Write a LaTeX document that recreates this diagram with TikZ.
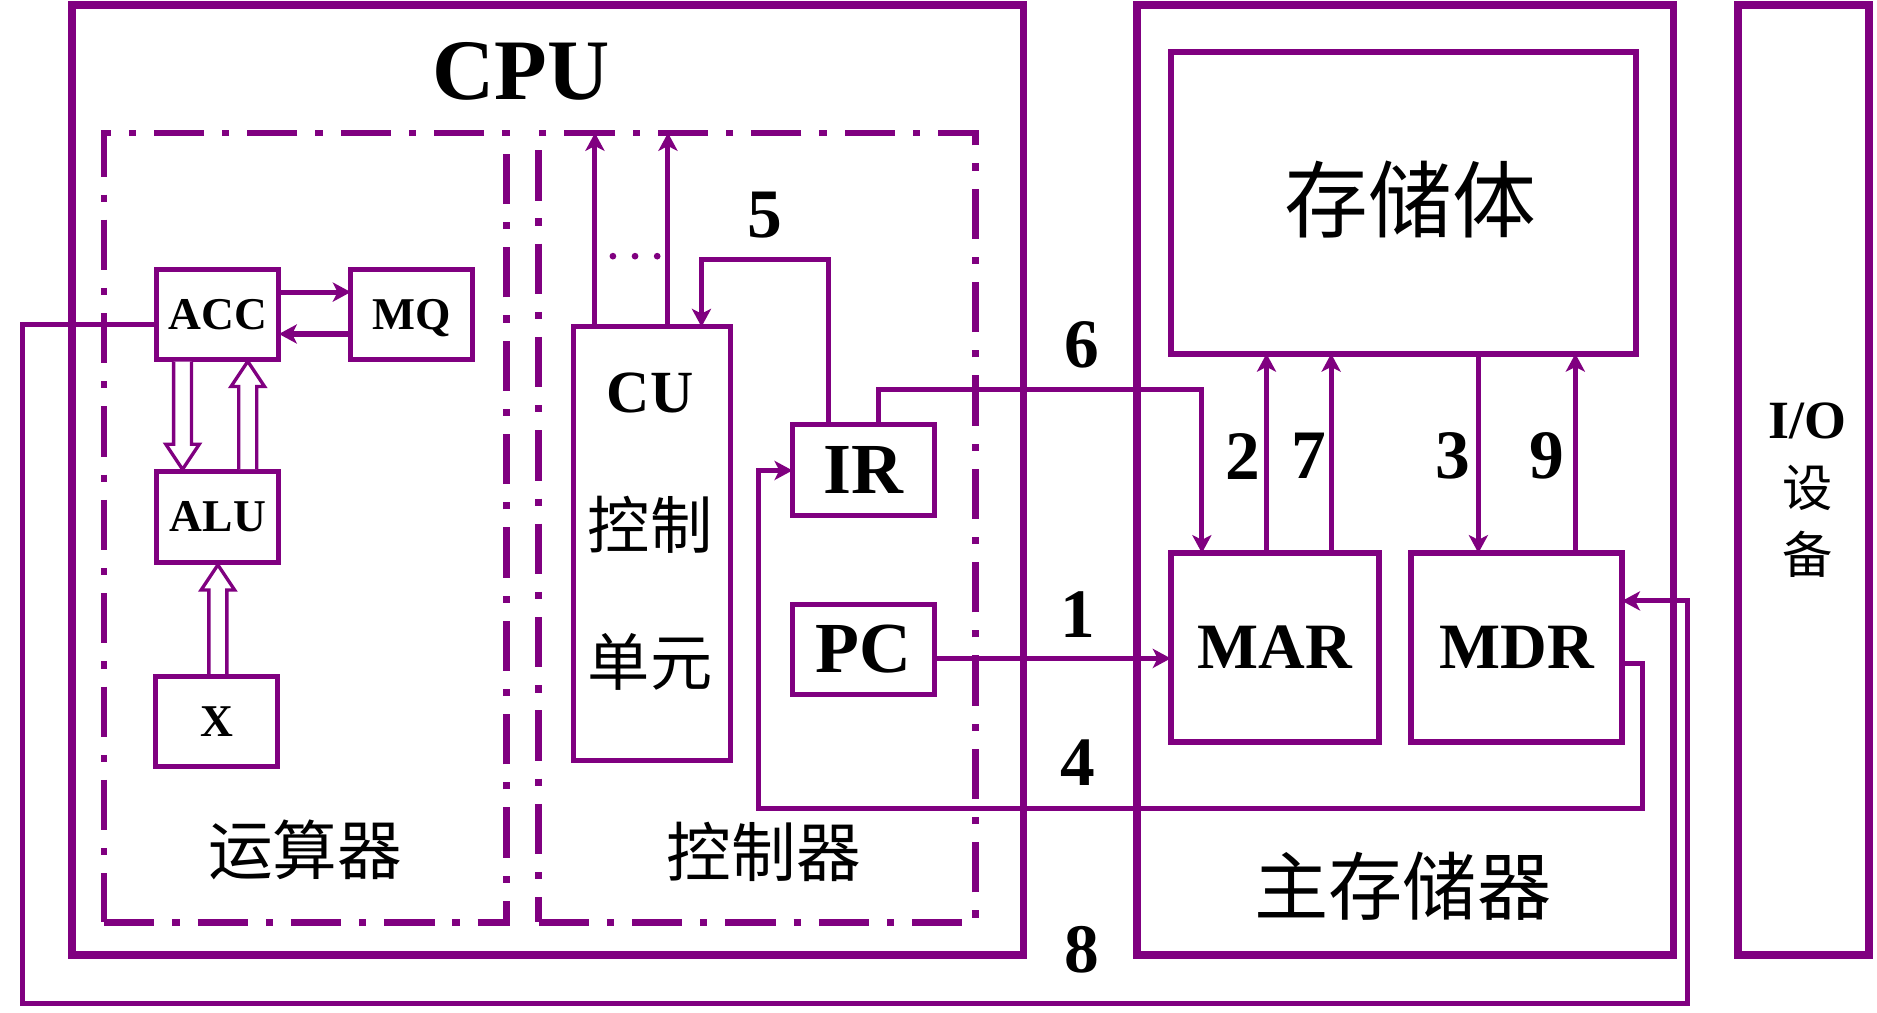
\documentclass[tikz,border=0pt]{standalone}
\usepackage{fontspec}
\setmainfont{Liberation Serif}
\newfontfamily\cjk{Noto Sans CJK SC}
\usetikzlibrary{arrows.meta,calc}
\definecolor{pp}{RGB}{128,0,128}
\begin{document}
\begin{tikzpicture}[x=1pt,y=-1pt,
  bigbox/.style={draw=pp,line width=6.5pt,inner sep=0pt,outer sep=0pt},
  region/.style={draw=pp,line width=5.5pt,dash pattern=on 42pt off 15pt on 6pt off 15pt,inner sep=0pt,outer sep=0pt},
  reg/.style={draw=pp,line width=4.2pt,inner sep=0pt,outer sep=0pt},
  conn/.style={draw=pp,line width=4.2pt},
  arr/.style={-{Stealth[length=15pt,width=16pt,inset=4pt]}},
  hollow/.style={draw=pp,line width=2.8pt,fill=white,line join=miter},
  lat/.style={font=\bfseries\fontsize{#1}{#1}\selectfont},
  zh/.style={font=\cjk\fontsize{#1}{#1}\selectfont},
  pics/harrow/.style={code={\draw[hollow] (-7.5,0) -- (-7.5,#1-21) -- (-14,#1-21) -- (0,#1) -- (14,#1-21) -- (7.5,#1-21) -- (7.5,0);}}
]
\fill[white] (0,0) rectangle (1568,846);
\useasboundingbox (0,0) rectangle (1568,846);

% outer boxes
\node[bigbox,minimum width=795pt,minimum height=793pt] (cpu) at (457.5,401) {};
\node[bigbox,minimum width=448pt,minimum height=793pt] (mm) at (1174,401) {};
\node[bigbox,minimum width=109pt,minimum height=793pt] (io) at (1506.5,401) {};
\node[region,minimum width=336pt,minimum height=659.5pt] (aluR) at (255,440.75) {};
\node[region,minimum width=365pt,minimum height=659.5pt] (ctlR) at (632.5,440.75) {};

% titles
\node[lat=72] (cpulbl) at (435,60) {CPU};
\node[zh=54] (alulbl) at (255,710) {运算器};
\node[zh=54] (ctllbl) at (638,712) {控制器};
\node[zh=62] (mmlbl) at (1172,740) {主存储器};
\node[lat=45] (iolbl) at (1510,352) {I/O};
\node[zh=42] (iolblb) at (1510,408) {设};
\node[zh=42] (iolblc) at (1510,463) {备};

% small registers
\node[reg,minimum width=102pt,minimum height=75pt,lat=38] (acc) at (182,262.5) {ACC};
\node[reg,minimum width=102pt,minimum height=75pt,lat=38,text depth=0pt] (mq) at (344,262.5) {MQ};
\node[reg,minimum width=102pt,minimum height=76pt,lat=38] (alu) at (182,432) {ALU};
\node[reg,minimum width=102pt,minimum height=75pt,lat=38] (xreg) at (181,602.5) {X};
\node[reg,minimum width=131pt,minimum height=362pt] (cu) at (544.5,454) {};
\node[lat=50] (cutxt) at (543,328) {CU};
\node[zh=52] (cutxtb) at (543,438) {控制};
\node[zh=52] (cutxtc) at (543,553) {单元};
\node[reg,minimum width=119pt,minimum height=76pt,lat=60] (ir) at (721.5,393) {IR};
\node[reg,minimum width=119pt,minimum height=75pt,lat=60] (pc) at (721.5,542.5) {PC};
\node[reg,line width=5pt,minimum width=388pt,minimum height=252pt] (mem) at (1172.5,169.5) {};
\node[zh=70] (memlbl) at (1178,167) {存储体};
\node[reg,line width=5pt,minimum width=174pt,minimum height=158pt,lat=54] (mar) at (1065,541) {MAR};
\node[reg,line width=5pt,minimum width=176pt,minimum height=158pt,lat=54] (mdr) at (1267,541) {MDR};

% number labels
\node[lat=58] (n5) at (639,180) {5};
\node[lat=58] (n6) at (904,288) {6};
\node[lat=58] (n1) at (900,513) {1};
\node[lat=58] (n4) at (900,637) {4};
\node[lat=58] (n8) at (904,793) {8};
\node[lat=58] (n2) at (1038,381) {2};
\node[lat=58] (n7) at (1093,381) {7};
\node[lat=58] (n3) at (1214,381) {3};
\node[lat=58] (n9) at (1292,381) {9};

% ACC <-> MQ
\draw[conn,arr] ([yshift=18.5pt]acc.east) -- ([yshift=18.5pt]mq.west);
\draw[conn,arr] ([yshift=-16.5pt]mq.west) -- ([yshift=-16.5pt]acc.east);

% hollow data arrows
\pic at ([xshift=-29.5pt,yshift=-2.1pt]acc.south) {harrow=90};
\pic[rotate=180] at ([xshift=25pt,yshift=2.1pt]alu.north) {harrow=90};
\pic[rotate=180] at ([xshift=1pt,yshift=2.1pt]xreg.north) {harrow=91};

% CU control outputs
\coordinate (cua) at ([xshift=-47.5pt]cu.north);
\coordinate (cub) at ([xshift=13.5pt]cu.north);
\draw[conn,arr] (cua) -- (cua |- ctlR.north);
\draw[conn,arr] (cub) -- (cub |- ctlR.north);
\fill[pp] (512,214) circle (2.8) (530.5,214) circle (2.8) (549,214) circle (2.8);

% line 5
\coordinate (b5) at (640,217);
\draw[conn,arr] ([xshift=-29.5pt]ir.north) |- (b5) -| ([xshift=41.5pt]cu.north);
% line 6
\coordinate (b6) at (870,325);
\draw[conn,arr] ([xshift=12.5pt]ir.north) |- (b6) -| ([xshift=-61pt]mar.north);
% line 1
\coordinate (p1) at ([yshift=-7.5pt]pc.east);
\draw[conn,arr] (p1) -- (p1 -| mar.west);
% line 4
\coordinate (b4a) at (1372,675);
\coordinate (b4b) at (634,675);
\draw[conn,arr] ([yshift=-13pt]mdr.east) -| (b4a) -- (b4b) |- (ir.west);
% line 8
\coordinate (b8a) at (19,838);
\coordinate (b8b) at (1410,838);
\draw[conn,arr] ([yshift=-8.5pt]acc.west) -| (b8a) -- (b8b) |- ([yshift=39pt]mdr.east);

% memory transfers
\coordinate (m2) at ([xshift=-7pt]mar.north);
\coordinate (m7) at ([xshift=47pt]mar.north);
\coordinate (m3) at ([xshift=-32pt]mdr.north);
\coordinate (m9) at ([xshift=49pt]mdr.north);
\draw[conn,arr] (m2) -- (m2 |- mem.south);
\draw[conn,arr] (m7) -- (m7 |- mem.south);
\draw[conn,arr] (m3 |- mem.south) -- (m3);
\draw[conn,arr] (m9) -- (m9 |- mem.south);
\end{tikzpicture}
\end{document}
